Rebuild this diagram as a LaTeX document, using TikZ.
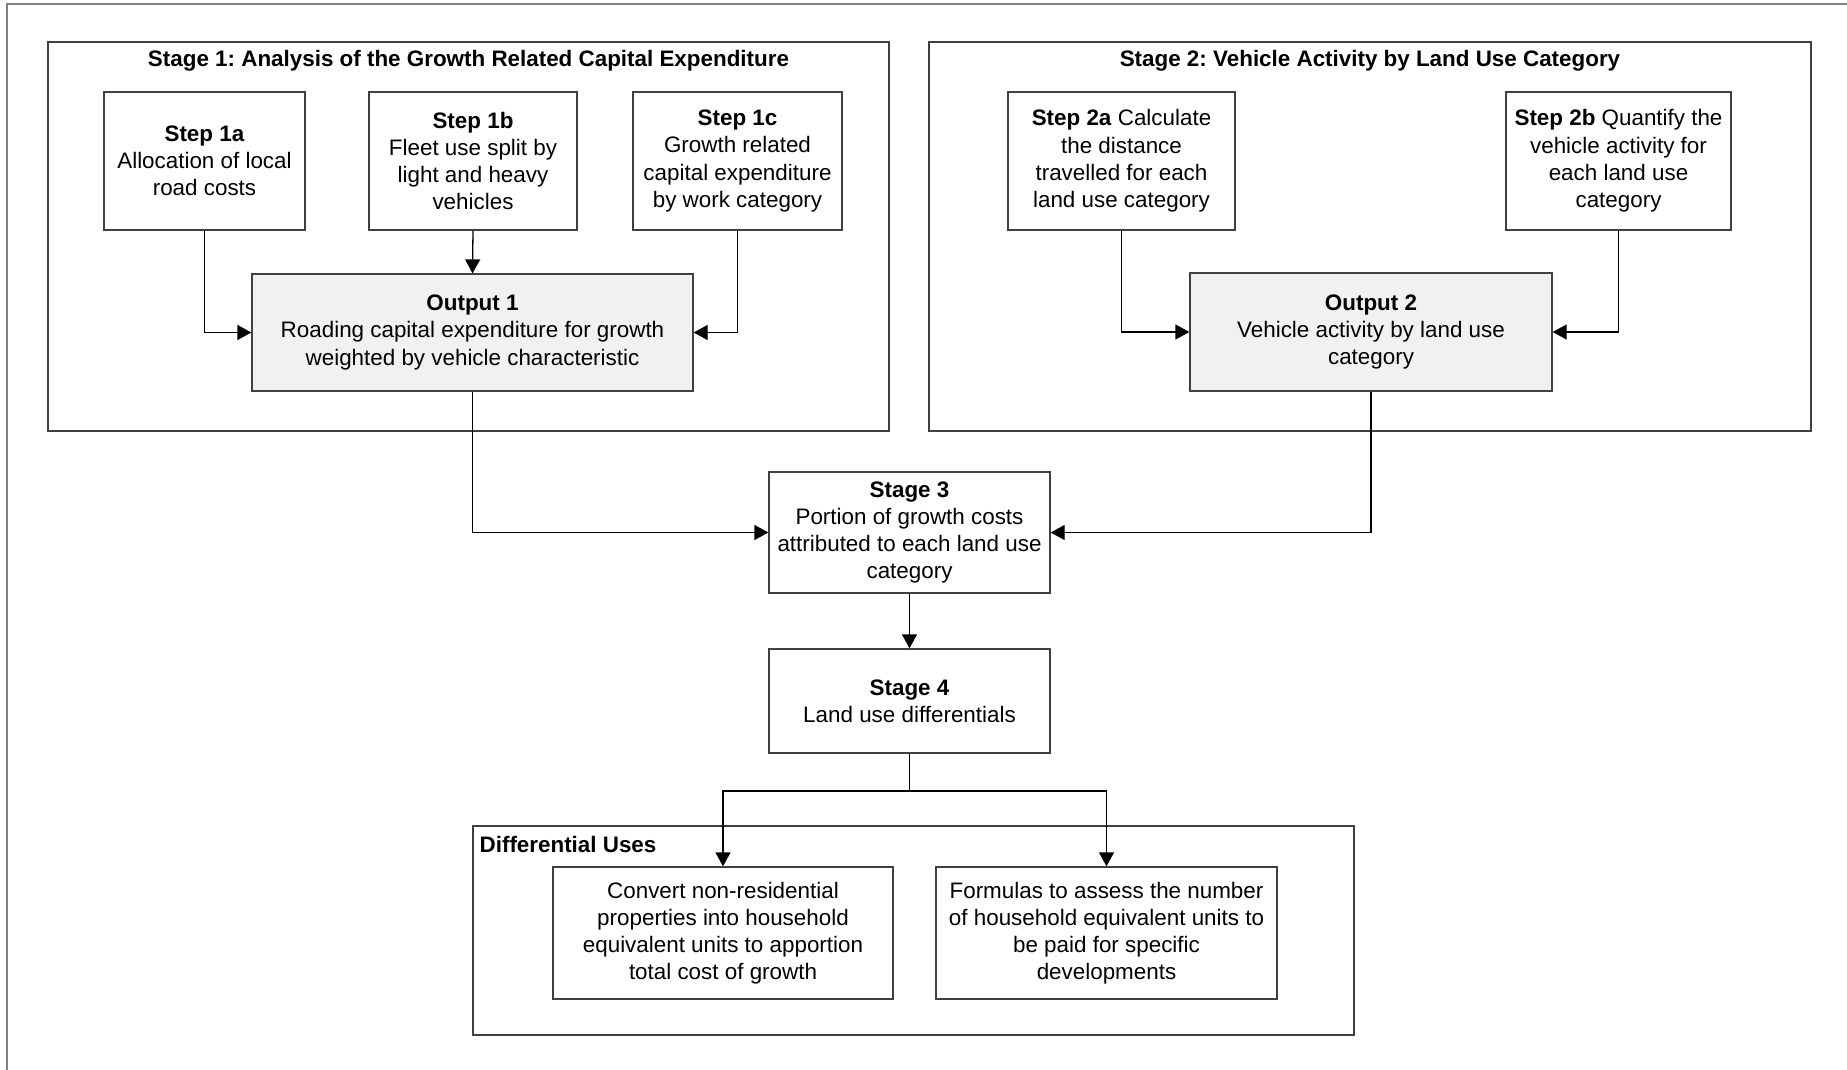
\documentclass[tikz,border=0pt]{standalone}
\usepackage{fontspec}
\setmainfont{Liberation Sans}
\usetikzlibrary{arrows.meta}
\definecolor{boxline}{HTML}{404040}
\definecolor{outfill}{HTML}{F1F1F1}
\frenchspacing

\begin{document}
\begin{tikzpicture}[x=1pt,y=-1pt,line width=1.3pt,
  font=\fontsize{22.4}{27.2}\selectfont,
  stepbox/.style={draw=boxline,align=center,inner sep=3pt,minimum height=138pt},
  outbox/.style={stepbox,fill=outfill},
  groupbox/.style={draw=boxline,inner sep=0pt},
  arr/.style={-{Triangle[length=14pt,width=15pt]}}]
\useasboundingbox (0,0) rectangle (1847,1070);
\draw[gray] (7,1070) |- (1847,4);
\node[groupbox,minimum width=841pt,minimum height=389pt](g1) at (468.5,236.5){};
\node[groupbox,minimum width=882pt,minimum height=389pt](g2) at (1370,236.5){};
\node[anchor=base](t1) at (468.5,67){\textbf{Stage 1: Analysis of the Growth Related Capital Expenditure}};
\node[anchor=base](t2) at (1370,67){\textbf{Stage 2: Vehicle Activity by Land Use Category}};
\node[stepbox,minimum width=201pt](s1a) at (204.5,161){\textbf{Step 1a}\\Allocation of local\\road costs};
\node[stepbox,minimum width=208pt](s1b) at (473,161){\textbf{Step 1b}\\Fleet use split by\\light and heavy\\vehicles};
\node[stepbox,minimum width=209pt](s1c) at (737.5,161){\textbf{Step 1c}\\Growth related\\capital expenditure\\by work category};
\node[stepbox,minimum width=227pt](s2a) at (1121.5,161){\textbf{Step 2a} Calculate\\the distance\\travelled for each\\land use category};
\node[stepbox,minimum width=225pt](s2b) at (1618.5,161){\textbf{Step 2b} Quantify the\\vehicle activity for\\each land use\\category};
\node[outbox,minimum width=441pt,minimum height=117pt](out1) at (472.5,332.5){\textbf{Output 1}\\Roading capital expenditure for growth\\weighted by vehicle characteristic};
\node[outbox,minimum width=362pt,minimum height=118pt](out2) at (1371,332){\textbf{Output 2}\\Vehicle activity by land use\\category};
\node[stepbox,minimum width=281pt,minimum height=121pt](st3) at (909.5,532.5){\textbf{Stage 3}\\Portion of growth costs\\attributed to each land use\\category};
\node[stepbox,minimum width=281pt,minimum height=104pt](st4) at (909.5,701){\textbf{Stage 4}\\Land use differentials};
\node[groupbox,minimum width=881pt,minimum height=209pt](g3) at (913.5,930.5){};
\node[anchor=base west,inner sep=0pt](t3) at (479,852){\textbf{Differential Uses}};
\node[stepbox,minimum width=340pt,minimum height=132pt](conv) at (723,933){Convert non-residential\\properties into household\\equivalent units to apportion\\total cost of growth};
\node[stepbox,minimum width=341pt,minimum height=132pt](form) at (1106.5,933){Formulas to assess the number\\of household equivalent units to\\be paid for specific\\developments};
\draw[arr](s1a.south)|-(out1.west);
\draw[arr](s1b.south)--(out1.north);
\draw[arr](s1c.south)|-(out1.east);
\draw[arr](s2a.south)|-(out2.west);
\draw[arr](s2b.south)|-(out2.east);
\draw[arr](out1.south)|-(st3.west);
\draw[arr](out2.south)|-(st3.east);
\draw[arr](st3.south)--(st4.north);
\coordinate (fork) at (909.5,791);
\draw(st4.south)--(fork);
\draw[arr](fork)-|(conv.north);
\draw[arr](fork)-|(form.north);
\end{tikzpicture}
\end{document}
